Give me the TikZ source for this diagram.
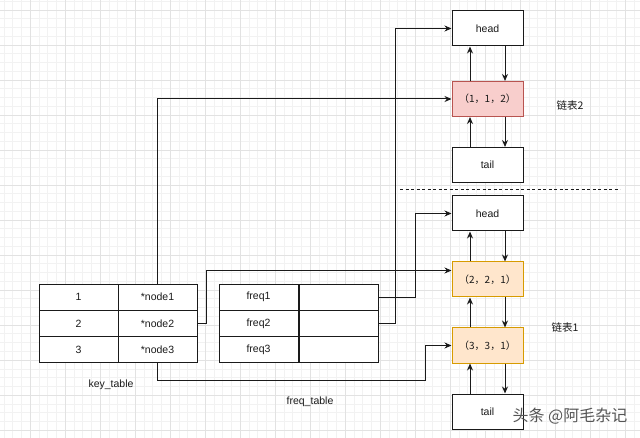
\documentclass[tikz,border=0pt]{standalone}
\usepackage{fontspec}
\setsansfont{Liberation Sans}
\newfontfamily\cjk{Noto Sans CJK SC}
\usepackage{tikz}
\usetikzlibrary{arrows.meta}
\definecolor{lkink}{HTML}{1A1A1A}
\definecolor{lkgridminor}{HTML}{F2F2F2}
\definecolor{lkgridmajor}{HTML}{E2E2E2}
\definecolor{lkredfill}{HTML}{F8CECC}
\definecolor{lkredline}{HTML}{B85450}
\definecolor{lkorgfill}{HTML}{FFE6CC}
\definecolor{lkorgline}{HTML}{D79B00}
\definecolor{lkmark}{HTML}{555555}
\begin{document}
\begin{tikzpicture}[x=1pt, y=-1pt,
    every node/.style={font=\sffamily\fontsize{10.5}{12}\selectfont, text=lkink},
    cell/.style  ={rectangle, draw=lkink, fill=white, line width=1pt, inner sep=0pt,
                   minimum width=79pt, minimum height=26.3pt},
    lnode/.style ={rectangle, draw=lkink, fill=white, line width=1pt, inner sep=0pt,
                   minimum width=71pt, minimum height=35pt},
    hot/.style   ={lnode, draw=lkredline, fill=lkredfill, font=\cjk\fontsize{10}{12}\selectfont},
    warm/.style  ={lnode, draw=lkorgline, fill=lkorgfill, font=\cjk\fontsize{10}{12}\selectfont},
    flow/.style  ={-{Stealth[length=7pt, width=6pt]}, draw=lkink, line width=1pt},
    listcap/.style={font=\cjk\fontsize{10.5}{12}\selectfont},
  ]

  \useasboundingbox (0,0) rectangle (640,438);
  \fill[white] (0,0) rectangle (640,438);
  % background grid
  \begin{scope}
    \clip (0,0) rectangle (640,438);
    \foreach \i in {0,...,73} \draw[lkgridminor, line width=0.5pt] (3.75+8.75*\i,0) -- (3.75+8.75*\i,438);
    \foreach \i in {0,...,50} \draw[lkgridminor, line width=0.5pt] (0,1.25+8.75*\i) -- (640,1.25+8.75*\i);
    \foreach \i in {0,...,19} \draw[lkgridmajor, line width=0.6pt] (-5+35*\i,0) -- (-5+35*\i,438);
    \foreach \i in {0,...,12} \draw[lkgridmajor, line width=0.6pt] (0,10+35*\i) -- (640,10+35*\i);
  \end{scope}

  % key_table
  \node[cell] (k1a) at (78.5,297.2) {1};
  \node[cell] (k1b) at (157.5,297.2) {*node1};
  \node[cell] (k2a) at (78.5,323.5) {2};
  \node[cell] (k2b) at (157.5,323.5) {*node2};
  \node[cell] (k3a) at (78.5,349.8) {3};
  \node[cell] (k3b) at (157.5,349.8) {*node3};
  \node (keyname) at (111,385) {key\_table};

  % freq_table
  \node[cell] (f1a) at (258.5,297.2) {freq1};
  \node[cell] (f1b) at (338.5,297.2) {};
  \node[cell] (f2a) at (258.5,323.5) {freq2};
  \node[cell] (f2b) at (338.5,323.5) {};
  \node[cell] (f3a) at (258.5,349.8) {freq3};
  \node[cell] (f3b) at (338.5,349.8) {};
  \node (freqname) at (310,402) {freq\_table};

  % list 2
  \node[lnode] (hd2) at (487.5,28.5) {head};
  \node[hot]   (p2)  at (487.5,99) {（1，1，2）};
  \node[lnode] (tl2) at (487.5,165) {tail};
  \node[listcap] (lbl2) at (570,105) {链表2};

  \coordinate (sepL) at (400,189);
  \coordinate (sepR) at (620,189);
  \draw[lkink, line width=0.8pt, dash pattern=on 3pt off 2.5pt] (sepL) -- (sepR);

  % list 1
  \node[lnode] (hd1) at (487.5,213.5) {head};
  \node[warm]  (n21) at (487.5,279.5) {（2，2，1）};
  \node[warm]  (n31) at (487.5,345.5) {（3，3，1）};
  \node[lnode] (tl1) at (487.5,411.5) {tail};
  \node[listcap] (lbl1) at (565,327) {链表1};

  \draw[flow] ([xshift=17.5pt]hd2.south) -- ([xshift=17.5pt]p2.north);
  \draw[flow] ([xshift=-17.5pt]p2.north) -- ([xshift=-17.5pt]hd2.south);
  \draw[flow] ([xshift=17.5pt]p2.south) -- ([xshift=17.5pt]tl2.north);
  \draw[flow] ([xshift=-17.5pt]tl2.north) -- ([xshift=-17.5pt]p2.south);

  \draw[flow] ([xshift=17.5pt]hd1.south) -- ([xshift=17.5pt]n21.north);
  \draw[flow] ([xshift=-17.5pt]n21.north) -- ([xshift=-17.5pt]hd1.south);
  \draw[flow] ([xshift=17.5pt]n21.south) -- ([xshift=17.5pt]n31.north);
  \draw[flow] ([xshift=-17.5pt]n31.north) -- ([xshift=-17.5pt]n21.south);
  \draw[flow] ([xshift=17.5pt]n31.south) -- ([xshift=17.5pt]tl1.north);
  \draw[flow] ([xshift=-17.5pt]tl1.north) -- ([xshift=-17.5pt]n31.south);

  % table pointers
  \draw[flow] (k1b.north) |- (p2.west);
  \draw[flow] (k2b.east) -- ++(9,0) |- ([yshift=9pt]n21.west);
  \draw[flow] (k3b.south) -- ++(0,17) -| ([xshift=-26pt]n31.west) -- (n31.west);
  \draw[flow] (f1b.east) -- ++(37,0) |- (hd1.west);
  \draw[flow] (f2b.east) -- ++(17,0) |- (hd2.west);

  \node[font=\cjk\fontsize{16}{18}\selectfont, text=lkmark] (wm) at (570,416) {头条 @阿毛杂记};

\end{tikzpicture}
\end{document}
